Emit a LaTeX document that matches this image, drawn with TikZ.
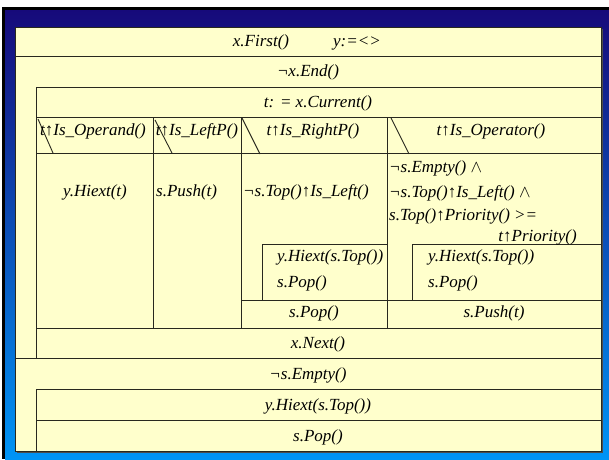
\documentclass[tikz,border=0pt]{standalone}
\usepackage{fontspec}
\setmainfont{Liberation Serif}
\begin{document}
\begin{tikzpicture}[x=1pt,y=-1pt,
  rule/.style={draw={rgb,255:red,40;green,40;blue,30},line width=0.9pt},
  lbl/.style={inner sep=0pt,anchor=mid,font=\fontsize{17}{20}\selectfont\itshape},
  lbll/.style={lbl,anchor=mid west},
  lblr/.style={lbl,anchor=mid east}]
\definecolor{pad}{RGB}{255,255,204}
\definecolor{navy}{RGB}{22,10,122}
\definecolor{sky}{RGB}{0,148,245}
\useasboundingbox (0,0) rectangle (609,459);
% slide backdrop
\fill[white] (0,0) rectangle (609,459);
\fill[black] (2,7) rectangle (609,459);
\shade[top color=navy,bottom color=sky] (5,10) rectangle (609,459);
% structogram frame with shadow
\fill[black!70] (17,29) rectangle (602.5,452.5);
\fill[pad] (15,27) rectangle (601,451);
\draw[rule] (15,27) rectangle (601,451);

% sequence rows and loop bodies
\draw[rule] (15,56) -- (601,56);
\draw[rule] (36,87) -- (601,87);
\draw[rule] (36,87) -- (36,358);
\draw[rule] (36,117) -- (601,117);
\draw[rule] (36,153) -- (601,153);
\draw[rule] (36,328) -- (601,328);
\draw[rule] (15,358) -- (601,358);
\draw[rule] (36,389) -- (601,389);
\draw[rule] (36,389) -- (36,451);
\draw[rule] (36,420) -- (601,420);

% case columns
\draw[rule] (153,117) -- (153,328);
\draw[rule] (241,117) -- (241,328);
\draw[rule] (387,117) -- (387,328);
\draw[rule] (38,119) -- (53,153);
\draw[rule] (155,120) -- (172,153);
\draw[rule] (242,118) -- (260,154);
\draw[rule] (391,118) -- (409,154);

% inner loops of the right-parenthesis and operator cases
\draw[rule] (241,300) -- (601,300);
\draw[rule] (262,300) -- (262,244) -- (387,244);
\draw[rule] (412,300) -- (412,244) -- (601,244);

% texts
\node[lbl] (first) at (261,44) {x.First()};
\node[lbl] (yinit) at (357,44) {y:=<>};
\node[lbl] (notend) at (308,74) {¬x.End()};
\node[lbl] (cur) at (318,105) {t: = x.Current()};
\node[lbl] (cOpd) at (93,133) {t↑Is\_Operand()};
\node[lbl] (cLP) at (197,133) {t↑Is\_LeftP()};
\node[lbl] (cRP) at (313,133) {t↑Is\_RightP()};
\node[lbl] (cOpr) at (491,133) {t↑Is\_Operator()};
\node[lbl] (hiT) at (95,194) {y.Hiext(t)};
\node[lbll] (pushL) at (156,194) {s.Push(t)};
\node[lbll] (whileRP) at (243,194) {¬s.Top()↑Is\_Left()};
\node[lbll] (cond1) at (389,170) {¬s.Empty() $\wedge$};
\node[lbll] (cond2) at (389,195) {¬s.Top()↑Is\_Left() $\wedge$};
\node[lbll] (cond3) at (389,218) {s.Top()↑Priority() >=};
\node[lblr] (cond4) at (577,239) {t↑Priority()};
\node[lbll] (hiRP) at (277,259) {y.Hiext(s.Top())};
\node[lbll] (popRP) at (277,285) {s.Pop()};
\node[lbll] (hiOp) at (428,259) {y.Hiext(s.Top())};
\node[lbll] (popOp) at (428,285) {s.Pop()};
\node[lbl] (popLP) at (314,315) {s.Pop()};
\node[lbl] (pushT) at (494,315) {s.Push(t)};
\node[lbl] (next) at (318,346) {x.Next()};
\node[lbl] (notempty) at (308,377) {¬s.Empty()};
\node[lbl] (hiEnd) at (318,408) {y.Hiext(s.Top())};
\node[lbl] (popEnd) at (318,439) {s.Pop()};
\end{tikzpicture}
\end{document}
